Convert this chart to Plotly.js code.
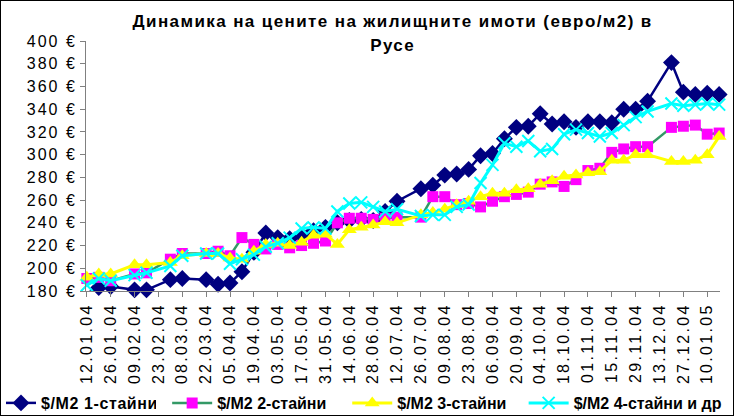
<!DOCTYPE html>
<html>
<head>
<meta charset="utf-8">
<script src="https://cdn.plot.ly/plotly-3.0.1.min.js"></script>
<style>
    body { margin: 0; background: #fff; }
    #chart { width: 732px; height: 414px; border: 1px solid #000; overflow: hidden; }
    /* the original text is drawn with wide spacing */
    #chart .ytick text { letter-spacing: 2px; }
    #chart .xtick text { letter-spacing: 2.3px; }
    #chart .legendtext { letter-spacing: 1.2px; }
    #chart g.legend .legendtext { letter-spacing: 0.6px; }
    #chart .gtitle, #chart .annotation-text { letter-spacing: 1.4px; }
</style>
</head>
<body>
<div id="chart"></div>
<script>
// weekly survey dates (some weeks have no data)
const weeks = [
    '2004-01-12', '2004-01-19', '2004-01-26', '2004-02-09', '2004-02-16',
    '2004-03-01', '2004-03-08', '2004-03-22', '2004-03-29', '2004-04-05',
    '2004-04-12', '2004-04-19', '2004-04-26', '2004-05-03', '2004-05-10',
    '2004-05-17', '2004-05-24', '2004-05-31', '2004-06-07', '2004-06-14',
    '2004-06-21', '2004-06-28', '2004-07-05', '2004-07-12', '2004-07-26',
    '2004-08-02', '2004-08-09', '2004-08-16', '2004-08-23', '2004-08-30',
    '2004-09-06', '2004-09-13', '2004-09-20', '2004-09-27', '2004-10-04',
    '2004-10-11', '2004-10-18', '2004-10-25', '2004-11-01', '2004-11-08',
    '2004-11-15', '2004-11-22', '2004-11-29', '2004-12-06', '2004-12-20',
    '2004-12-27', '2005-01-03', '2005-01-10', '2005-01-17'
];

const seriesNames = ['$/M2 1-стайни', '$/M2 2-стайни', '$/M2 3-стайни', '$/M2 4-стайни и др'];

const oneRoom = [
    178, 183, 184, 181, 181, 190, 191, 190, 186, 187,
    197, 214, 231, 227, 226, 229, 233, 236, 240, 242,
    243, 242, 250, 259, 270, 273, 282, 283, 287, 299,
    301, 314, 324, 325, 336, 327, 329, 324, 329, 329,
    328, 340, 340, 347, 381, 355, 353, 354, 353
];
const twoRoom = [
    191, 192, 189, 195, 196, 208, 213, 213, 215, 211,
    227, 221, 217, 221, 218, 220, 222, 224, 240, 244,
    244, 243, 244, 245, 245, 263, 263, 256, 257, 254,
    259, 263, 265, 267, 274, 276, 272, 278, 286, 288,
    302, 305, 307, 307, 324, 325, 326, 318, 319
];
const threeRoom = [
    192, 195, 195, 203, 203, 205, 211, 213, 213, 209,
    208, 215, 221, 222, 220, 223, 229, 230, 221, 234,
    236, 238, 241, 240, 247, 249, 252, 256, 259, 263,
    266, 266, 269, 270, 274, 277, 281, 282, 284, 285,
    295, 295, 300, 300, 294, 294, 295, 300, 316
];
const fourRoom = [
    185, 191, 189, 194, 196, 202, 211, 213, 213, 204,
    208, 212, 219, 222, 227, 235, 236, 235, 250, 257,
    258, 254, 250, 252, 246, 247, 247, 254, 256, 275,
    291, 310, 307, 312, 303, 305, 318, 322, 319, 316,
    319, 326, 333, 338, 345, 343, 344, 345, 344
];

const titleLines = ['Динамика на цените на жилищните имоти (евро/м2) в', 'Русе'];

const font = 'Liberation Sans, Arial, sans-serif';

const traces = [
    {
        x: weeks, y: oneRoom, name: seriesNames[0], mode: 'lines+markers', legend: 'legend',
        line: { color: '#000080', width: 2.5 },
        marker: { symbol: 'diamond', size: 13, color: '#000080' },
        cliponaxis: false
    },
    {
        x: weeks, y: twoRoom, name: seriesNames[1], mode: 'lines+markers', legend: 'legend2',
        line: { color: '#339966', width: 2.5 },
        marker: { symbol: 'square', size: 11, color: '#ff00ff' },
        cliponaxis: false
    },
    {
        x: weeks, y: threeRoom, name: seriesNames[2], mode: 'lines+markers', legend: 'legend3',
        line: { color: '#ffff00', width: 3 },
        marker: { symbol: 'triangle-up', size: 13, color: '#ffff00' },
        cliponaxis: false
    },
    {
        x: weeks, y: fourRoom, name: seriesNames[3], mode: 'lines+markers', legend: 'legend4',
        line: { color: '#00ffff', width: 3 },
        marker: { symbol: 'x-thin-open', size: 12, color: '#00ffff', line: { color: '#00ffff', width: 2 } },
        cliponaxis: false
    }
];

// one single-entry legend per series, laid out in a row along the bottom
function legendAt(x, itemwidth) {
    return {
        orientation: 'h',
        xref: 'container', x: x, xanchor: 'left',
        yref: 'container', y: 0.029, yanchor: 'middle',
        font: { family: font, size: 16, weight: 'bold' },
        itemwidth: itemwidth,
        bgcolor: 'rgba(0,0,0,0)'
    };
}

const layout = {
    width: 732,
    height: 414,
    margin: { l: 85, r: 13, t: 40, b: 124 },
    paper_bgcolor: '#fff',
    plot_bgcolor: '#fff',
    font: { family: font, size: 16, color: '#000' },
    title: {
        text: titleLines[0],
        font: { family: font, size: 17, weight: 'bold', color: '#000' },
        xref: 'container', x: 0.535, xanchor: 'center',
        yref: 'container', y: 0.952, yanchor: 'middle'
    },
    annotations: [{
        text: titleLines[1],
        font: { family: font, size: 17, weight: 'bold', color: '#000' },
        xref: 'paper', x: 0.484, xanchor: 'center',
        yref: 'paper', y: 0.984, yanchor: 'middle',
        showarrow: false
    }],
    xaxis: {
        type: 'date',
        range: ['2004-01-11 12:00', '2005-01-17 12:00'],
        tick0: '2004-01-12',
        dtick: 14 * 24 * 3600 * 1000,
        tickformat: '%d.%m.%y',
        tickangle: -90,
        ticks: 'outside', ticklen: 5, tickcolor: '#808080',
        showline: true, linecolor: '#808080', linewidth: 1,
        showgrid: false, zeroline: false, automargin: false,
        tickfont: { family: font, size: 16 }
    },
    yaxis: {
        range: [180, 400],
        dtick: 20,
        ticksuffix: ' €',
        ticks: 'outside', ticklen: 5, tickcolor: '#808080',
        ticklabelstandoff: 0,
        showline: true, linecolor: '#808080', linewidth: 1,
        showgrid: false, zeroline: false, automargin: false,
        tickfont: { family: font, size: 16 }
    },
    showlegend: true,
    legend: legendAt(0, 30),
    legend2: legendAt(0.227, 40),
    legend3: legendAt(0.473, 40),
    legend4: legendAt(0.714, 40)
};

Plotly.newPlot('chart', traces, layout, { staticPlot: true, displayModeBar: false });
</script>
</body>
</html>
